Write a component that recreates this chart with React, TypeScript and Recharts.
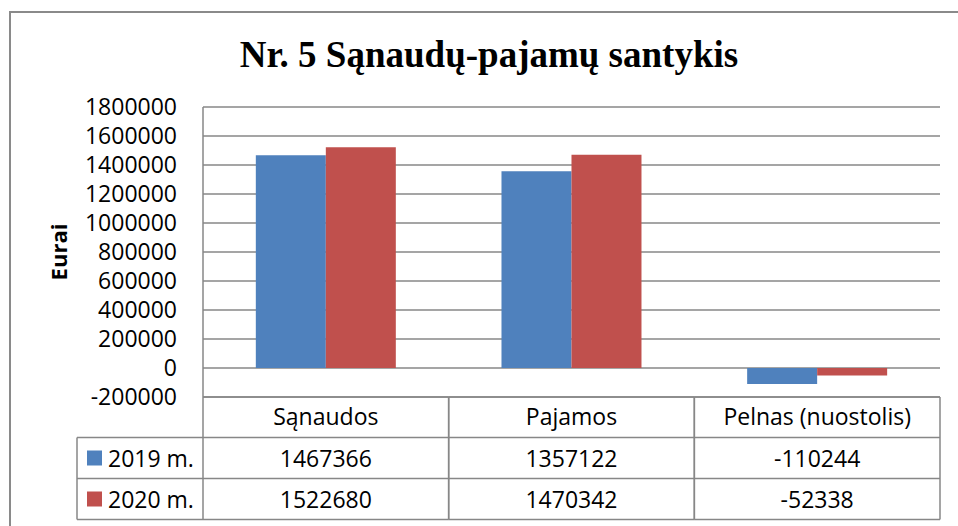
import React from 'react';
import { BarChart, Bar, XAxis, YAxis, CartesianGrid } from 'recharts';

const categories = ['Sąnaudos', 'Pajamos', 'Pelnas (nuostolis)'];
const values2019 = [1467366, 1357122, -110244];
const values2020 = [1522680, 1470342, -52338];
const seriesNames = ['2019 m.', '2020 m.'];
const yTicks = [-200000, 0, 200000, 400000, 600000, 800000, 1000000, 1200000, 1400000, 1600000, 1800000];
const title = 'Nr. 5 Sąnaudų-pajamų santykis';
const yTitle = 'Eurai';

const COLORS = ['#4F81BD', '#C0504D'];
const GRID = '#878787';
const FONT = '"Open Sans", sans-serif';

const W = 958;
const H = 526;
const PLOT_L = 203;
const PLOT_R = 940;
const PLOT_T = 107;
const PLOT_B = 397;
const COLW = (PLOT_R - PLOT_L) / categories.length;

const data = categories.map((c, i) => ({ name: c, y2019: values2019[i], y2020: values2020[i] }));
const seriesValues = [values2019, values2020];

function TableTick(props: any) {
  const { x, y, payload } = props;
  const i: number = payload.index;
  const left = x - COLW / 2;
  const right = x + COLW / 2;
  const r0 = y;
  const r1 = y + 40.5;
  const r2 = y + 81.5;
  const r3 = y + 122.5;
  const lineProps = { stroke: GRID, strokeWidth: 1.5 };
  return (
    <g>
      <line x1={left} y1={r0} x2={right} y2={r0} {...lineProps} />
      <line x1={left} y1={r1} x2={right} y2={r1} {...lineProps} />
      <line x1={left} y1={r2} x2={right} y2={r2} {...lineProps} />
      <line x1={left} y1={r3} x2={right} y2={r3} {...lineProps} />
      <line x1={left} y1={r0} x2={left} y2={r3} {...lineProps} />
      <line x1={right} y1={r0} x2={right} y2={r3} {...lineProps} />
      <text x={x} y={r0 + 28} textAnchor="middle" fontFamily={FONT} fontSize={23} fill="#000">
        {payload.value}
      </text>
      {seriesValues.map((vals, s) => (
        <text key={s} x={x} y={s === 0 ? r0 + 70 : r0 + 111} textAnchor="middle" fontFamily={FONT} fontSize={23} fill="#000">
          {vals[i]}
        </text>
      ))}
      {i === 0 && (
        <g>
          <line x1={77} y1={r1} x2={left} y2={r1} {...lineProps} />
          <line x1={77} y1={r2} x2={left} y2={r2} {...lineProps} />
          <line x1={77} y1={r3} x2={left} y2={r3} {...lineProps} />
          <line x1={77} y1={r1} x2={77} y2={r3} {...lineProps} />
          {seriesNames.map((n, s) => {
            const top = s === 0 ? r1 : r2;
            return (
              <g key={n}>
                <rect x={87} y={top + 13} width={15} height={15} fill={COLORS[s]} />
                <text x={108} y={top + 29.5} fontFamily={FONT} fontSize={23} fill="#000">
                  {n}
                </text>
              </g>
            );
          })}
        </g>
      )}
    </g>
  );
}

function YTitle(props: any) {
  const vb = props.viewBox || { y: PLOT_T, height: PLOT_B - PLOT_T };
  const cy = vb.y + vb.height / 2;
  const cx = 67;
  return (
    <text
      x={cx}
      y={cy}
      textAnchor="middle"
      transform={`rotate(-90, ${cx}, ${cy})`}
      fontFamily={FONT}
      fontWeight="bold"
      fontSize={22}
      fill="#000"
    >
      {yTitle}
    </text>
  );
}

export default function App() {
  return (
    <div style={{ position: 'absolute', left: 0, top: 0, width: W, height: H, overflow: 'hidden', background: '#fff' }}>
      <div
        style={{
          position: 'absolute',
          left: 9,
          top: 11,
          width: 960,
          height: 600,
          border: '2px solid #8a8a8a',
          boxSizing: 'border-box',
        }}
      />
      <div style={{ position: 'absolute', left: 0, top: 0 }}>
        <BarChart
          width={W}
          height={H}
          data={data}
          margin={{ top: PLOT_T, right: W - PLOT_R, bottom: 0, left: 0 }}
          barCategoryGap="21.5%"
          barGap={0}
        >
          <text
            x={489}
            y={67}
            textAnchor="middle"
            fontFamily='"Liberation Serif", "Times New Roman", serif'
            fontWeight="bold"
            fontSize={37}
            fill="#000"
          >
            {title}
          </text>
          <CartesianGrid horizontal={true} vertical={false} stroke={GRID} strokeWidth={1.5} />
          <YAxis
            type="number"
            domain={[-200000, 1800000]}
            ticks={yTicks}
            interval={0}
            width={PLOT_L}
            tickSize={0}
            tickMargin={26}
            axisLine={{ stroke: GRID, strokeWidth: 1.5 }}
            tickLine={false}
            tick={{ fill: '#000', fontFamily: FONT, fontSize: 23 }}
            label={<YTitle />}
          />
          <XAxis
            dataKey="name"
            height={H - PLOT_B}
            tickSize={0}
            tickMargin={0}
            axisLine={false}
            tickLine={false}
            interval={0}
            tick={(p: any) => <TableTick {...p} />}
          />
          <Bar dataKey="y2019" fill={COLORS[0]} isAnimationActive={false} />
          <Bar dataKey="y2020" fill={COLORS[1]} isAnimationActive={false} />
        </BarChart>
      </div>
    </div>
  );
}
